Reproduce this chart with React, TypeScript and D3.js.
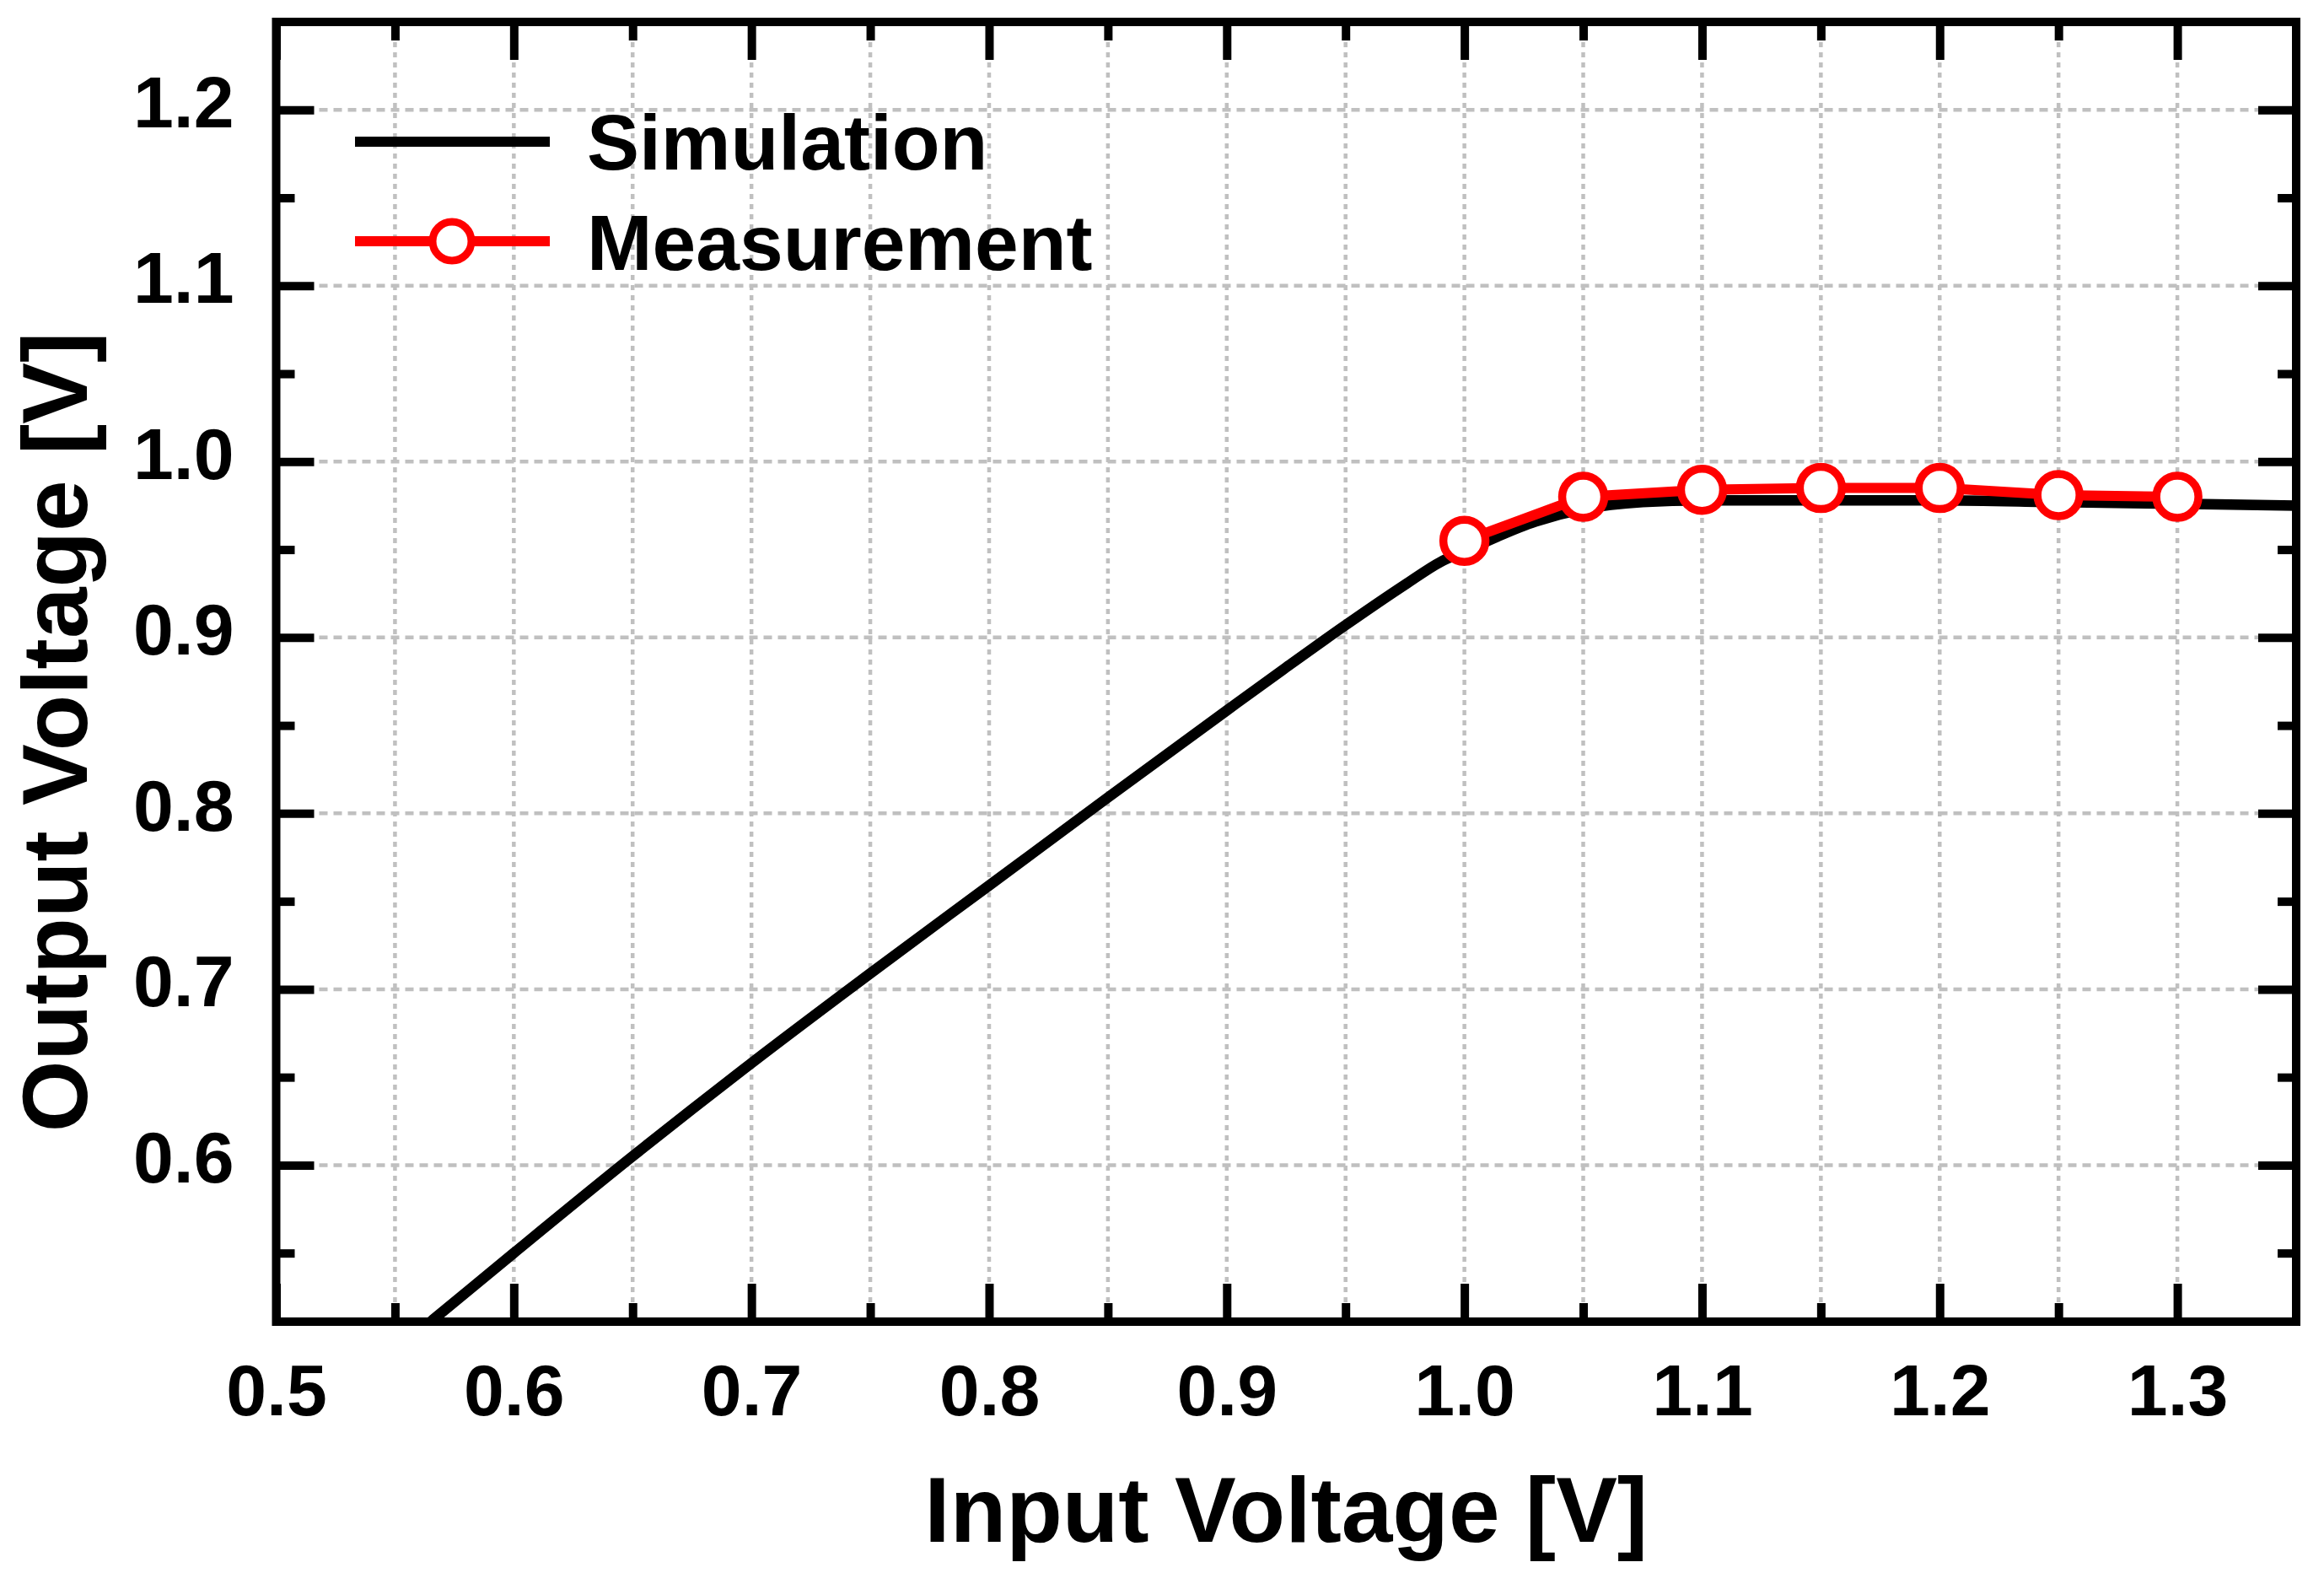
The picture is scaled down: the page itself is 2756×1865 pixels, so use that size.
import React, { useEffect, useRef } from 'react';
import * as d3 from 'd3';

// Simulated transfer curve: input voltage [V] -> output voltage [V]
const simInput = [
	0.565, 0.6, 0.65, 0.7, 0.75, 0.8, 0.85, 0.9, 0.925, 0.95, 0.975, 0.99, 1.0, 1.03, 1.05, 1.075,
	1.1, 1.15, 1.2, 1.25, 1.3, 1.35,
];
const simOutput = [
	0.511, 0.55, 0.605, 0.658, 0.709, 0.759, 0.809, 0.8585, 0.883, 0.907, 0.93, 0.943, 0.949, 0.966,
	0.973, 0.977, 0.978, 0.978, 0.978, 0.977, 0.976, 0.975,
];

// Measured points
const measInput = [1.0, 1.05, 1.1, 1.15, 1.2, 1.25, 1.3];
const measOutput = [0.955, 0.98, 0.984, 0.985, 0.985, 0.981, 0.98];

// Ticks
const xMajorTicks = [0.5, 0.6, 0.7, 0.8, 0.9, 1.0, 1.1, 1.2, 1.3];
const xMinorTicks = [0.55, 0.65, 0.75, 0.85, 0.95, 1.05, 1.15, 1.25];
const yMajorTicks = [0.6, 0.7, 0.8, 0.9, 1.0, 1.1, 1.2];
const yMinorTicks = [0.55, 0.65, 0.75, 0.85, 0.95, 1.05, 1.15];
const xGridTicks = [0.55, 0.6, 0.65, 0.7, 0.75, 0.8, 0.85, 0.9, 0.95, 1.0, 1.05, 1.1, 1.15, 1.2, 1.25, 1.3];

const seriesNames = ['Simulation', 'Measurement'];
const xTitle = 'Input Voltage [V]';
const yTitle = 'Output Voltage [V]';

const WIDTH = 2756;
const HEIGHT = 1865;
const LEFT = 327.5;
const RIGHT = 2723;
const TOP = 26;
const BOTTOM = 1567;
const FONT = "'Liberation Sans', Arial, Helvetica, sans-serif";

const TransferChart: React.FC = () => {
	const svgRef = useRef<SVGSVGElement>(null);

	useEffect(() => {
		const svg = d3.select(svgRef.current);
		svg.selectAll('*').remove();
		svg.attr('width', WIDTH).attr('height', HEIGHT);

		const x = d3.scaleLinear().domain([0.5, 1.35]).range([LEFT, RIGHT]);
		const y = d3.scaleLinear().domain([0.511, 1.25]).range([BOTTOM, TOP]);

		svg.append('rect').attr('width', WIDTH).attr('height', HEIGHT).attr('fill', 'white');

		// grid lines
		const grid = svg.append('g');
		grid
			.selectAll('line.gx')
			.data(xGridTicks)
			.enter()
			.append('line')
			.attr('x1', (d) => x(d))
			.attr('x2', (d) => x(d))
			.attr('y1', TOP)
			.attr('y2', BOTTOM)
			.attr('stroke', '#c0c0c0')
			.attr('stroke-width', 4.5)
			.attr('stroke-dasharray', '6,6');
		grid
			.selectAll('line.gy')
			.data(yMajorTicks)
			.enter()
			.append('line')
			.attr('x1', LEFT)
			.attr('x2', RIGHT)
			.attr('y1', (d) => y(d))
			.attr('y2', (d) => y(d))
			.attr('stroke', '#c0c0c0')
			.attr('stroke-width', 4.5)
			.attr('stroke-dasharray', '10,7');

		// clip to plot area
		svg
			.append('defs')
			.append('clipPath')
			.attr('id', 'plot-clip')
			.append('rect')
			.attr('x', LEFT)
			.attr('y', TOP)
			.attr('width', RIGHT - LEFT)
			.attr('height', BOTTOM - TOP);

		const plot = svg.append('g').attr('clip-path', 'url(#plot-clip)');

		const simData = simInput.map((v, i) => [v, simOutput[i]] as [number, number]);
		const measData = measInput.map((v, i) => [v, measOutput[i]] as [number, number]);

		const simLine = d3
			.line<[number, number]>()
			.x((d) => x(d[0]))
			.y((d) => y(d[1]))
			.curve(d3.curveMonotoneX);
		plot
			.append('path')
			.attr('d', simLine(simData) as string)
			.attr('fill', 'none')
			.attr('stroke', 'black')
			.attr('stroke-width', 12.5)
			.attr('stroke-linejoin', 'round');

		const measLine = d3
			.line<[number, number]>()
			.x((d) => x(d[0]))
			.y((d) => y(d[1]));
		plot
			.append('path')
			.attr('d', measLine(measData) as string)
			.attr('fill', 'none')
			.attr('stroke', '#ff0000')
			.attr('stroke-width', 12)
			.attr('stroke-linejoin', 'round');
		plot
			.selectAll('circle')
			.data(measData)
			.enter()
			.append('circle')
			.attr('cx', (d) => x(d[0]))
			.attr('cy', (d) => y(d[1]))
			.attr('r', 25)
			.attr('fill', 'white')
			.attr('stroke', '#ff0000')
			.attr('stroke-width', 9.5);

		// axes, ticks pointing inward
		const styleAxis = (g: d3.Selection<SVGGElement, unknown, null, undefined>) => {
			g.select('.domain').remove();
			g.selectAll('.tick line').attr('stroke', 'black').attr('stroke-width', 10);
		};
		const fmt = d3.format('.1f');

		const bottomMajor = svg
			.append('g')
			.attr('transform', `translate(0,${BOTTOM})`)
			.call(d3.axisBottom(x).tickValues(xMajorTicks).tickSize(-45).tickFormat(fmt));
		styleAxis(bottomMajor);
		bottomMajor
			.selectAll('.tick text')
			.attr('y', 111)
			.attr('dy', null)
			.attr('fill', 'black')
			.style('font-family', FONT)
			.style('font-weight', 'bold')
			.style('font-size', '86px');
		styleAxis(
			svg
				.append('g')
				.attr('transform', `translate(0,${BOTTOM})`)
				.call(d3.axisBottom(x).tickValues(xMinorTicks).tickSize(-22).tickFormat(() => ''))
		);
		styleAxis(
			svg
				.append('g')
				.attr('transform', `translate(0,${TOP})`)
				.call(d3.axisTop(x).tickValues(xMajorTicks).tickSize(-45).tickFormat(() => ''))
		);
		styleAxis(
			svg
				.append('g')
				.attr('transform', `translate(0,${TOP})`)
				.call(d3.axisTop(x).tickValues(xMinorTicks).tickSize(-22).tickFormat(() => ''))
		);

		const leftMajor = svg
			.append('g')
			.attr('transform', `translate(${LEFT},0)`)
			.call(d3.axisLeft(y).tickValues(yMajorTicks).tickSize(-45).tickFormat(fmt));
		styleAxis(leftMajor);
		leftMajor
			.selectAll('.tick text')
			.attr('x', -50)
			.attr('y', 20)
			.attr('dy', null)
			.attr('fill', 'black')
			.style('font-family', FONT)
			.style('font-weight', 'bold')
			.style('font-size', '86px');
		styleAxis(
			svg
				.append('g')
				.attr('transform', `translate(${LEFT},0)`)
				.call(d3.axisLeft(y).tickValues(yMinorTicks).tickSize(-22).tickFormat(() => ''))
		);
		styleAxis(
			svg
				.append('g')
				.attr('transform', `translate(${RIGHT},0)`)
				.call(d3.axisRight(y).tickValues(yMajorTicks).tickSize(-45).tickFormat(() => ''))
		);
		styleAxis(
			svg
				.append('g')
				.attr('transform', `translate(${RIGHT},0)`)
				.call(d3.axisRight(y).tickValues(yMinorTicks).tickSize(-22).tickFormat(() => ''))
		);

		// frame
		svg
			.append('rect')
			.attr('x', LEFT)
			.attr('y', TOP)
			.attr('width', RIGHT - LEFT)
			.attr('height', BOTTOM - TOP)
			.attr('fill', 'none')
			.attr('stroke', 'black')
			.attr('stroke-width', 10);

		// axis titles
		svg
			.append('text')
			.attr('x', (LEFT + RIGHT) / 2)
			.attr('y', 1828)
			.attr('text-anchor', 'middle')
			.style('font-family', FONT)
			.style('font-weight', 'bold')
			.style('font-size', '109px')
			.text(xTitle);
		svg
			.append('text')
			.attr('transform', 'translate(103,868) rotate(-90)')
			.attr('text-anchor', 'middle')
			.style('font-family', FONT)
			.style('font-weight', 'bold')
			.style('font-size', '109px')
			.text(yTitle);

		// legend
		const legend = svg.append('g');
		legend
			.append('line')
			.attr('x1', 421)
			.attr('x2', 652)
			.attr('y1', 168)
			.attr('y2', 168)
			.attr('stroke', 'black')
			.attr('stroke-width', 12);
		legend
			.append('line')
			.attr('x1', 421)
			.attr('x2', 652)
			.attr('y1', 286)
			.attr('y2', 286)
			.attr('stroke', '#ff0000')
			.attr('stroke-width', 12);
		legend
			.append('circle')
			.attr('cx', 536)
			.attr('cy', 286)
			.attr('r', 23)
			.attr('fill', 'white')
			.attr('stroke', '#ff0000')
			.attr('stroke-width', 9);
		legend
			.selectAll('text')
			.data(seriesNames)
			.enter()
			.append('text')
			.attr('x', 696)
			.attr('y', (_, i) => (i === 0 ? 201 : 320))
			.style('font-family', FONT)
			.style('font-weight', 'bold')
			.style('font-size', '93px')
			.text((d) => d);
	}, []);

	return <svg ref={svgRef} style={{ position: 'absolute', left: 0, top: 0, display: 'block' }} />;
};

export default function App() {
	return <TransferChart />;
}
